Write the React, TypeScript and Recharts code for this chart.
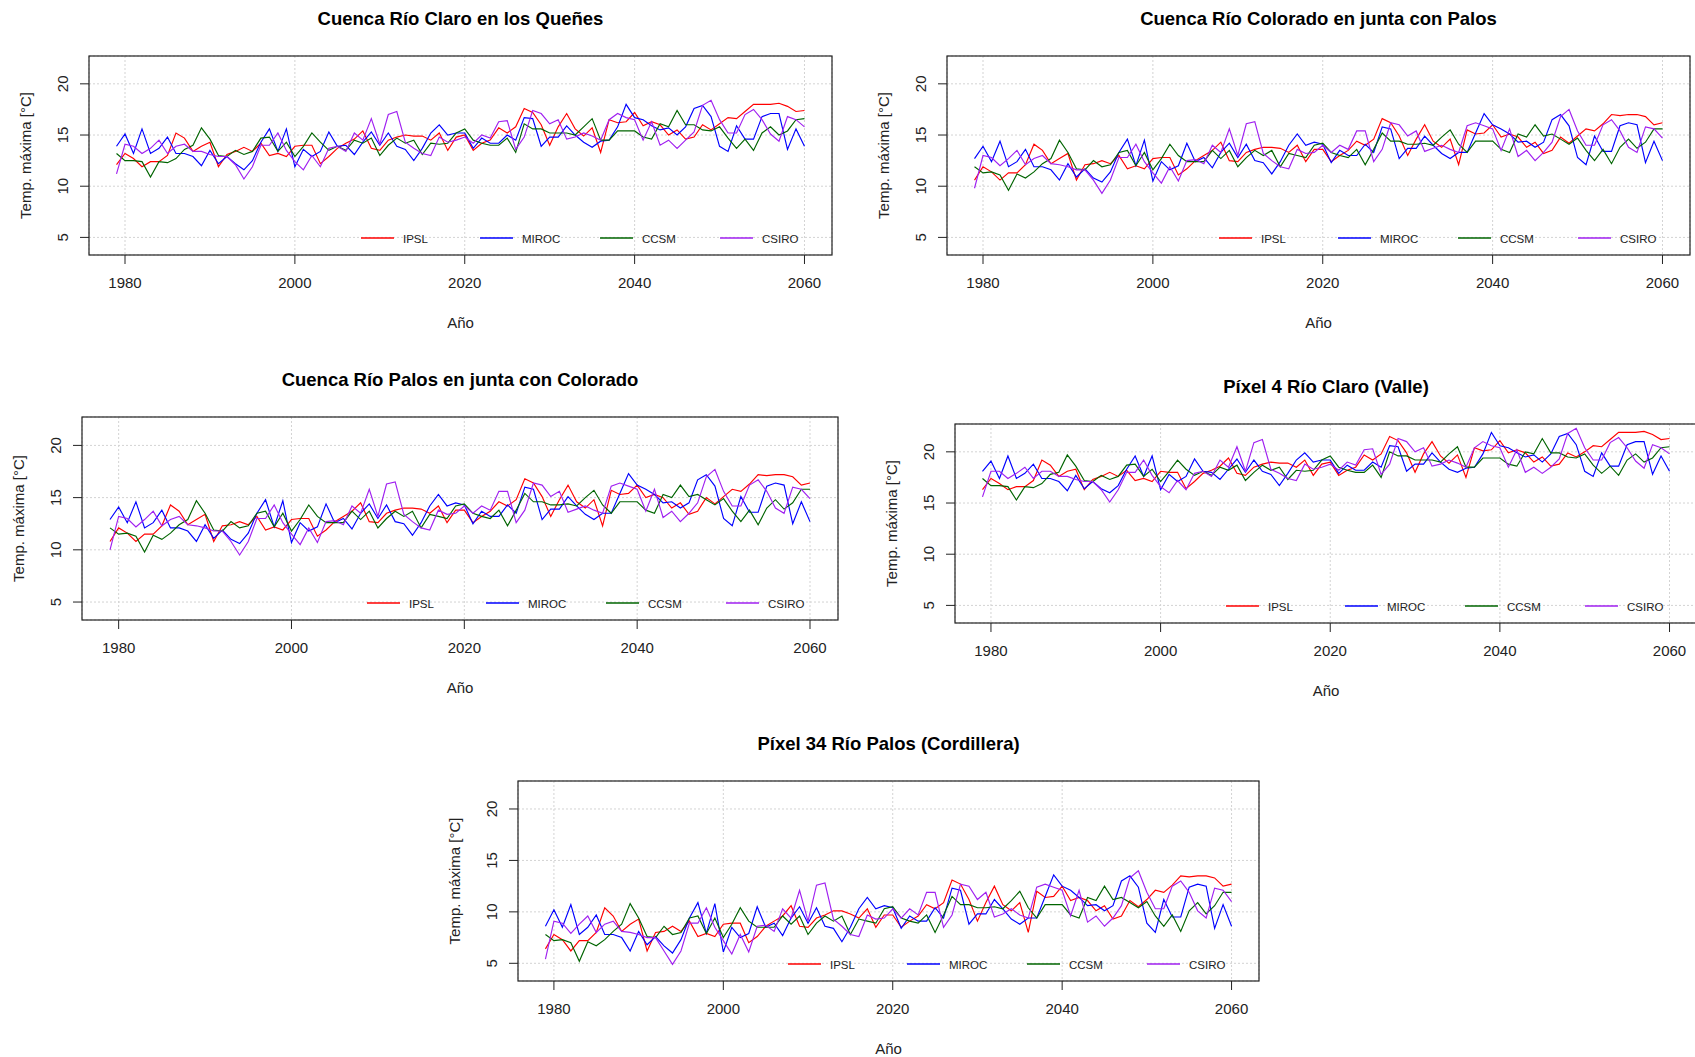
import React from 'react';
import { LineChart, Line, XAxis, YAxis, CartesianGrid } from 'recharts';

const YEARS = [1979,1980,1981,1982,1983,1984,1985,1986,1987,1988,
1989,1990,1991,1992,1993,1994,1995,1996,1997,1998,
1999,2000,2001,2002,2003,2004,2005,2006,2007,2008,
2009,2010,2011,2012,2013,2014,2015,2016,2017,2018,
2019,2020,2021,2022,2023,2024,2025,2026,2027,2028,
2029,2030,2031,2032,2033,2034,2035,2036,2037,2038,
2039,2040,2041,2042,2043,2044,2045,2046,2047,2048,
2049,2050,2051,2052,2053,2054,2055,2056,2057,2058,
2059,2060];

const X_TICKS = [1980, 2000, 2020, 2040, 2060];
const Y_TICKS = [5, 10, 15, 20];
const MODELS = ['IPSL', 'MIROC', 'CCSM', 'CSIRO'];
const X_LABEL = 'Año';
const Y_LABEL = 'Temp. máxima [°C]';
const TITLES = [
  'Cuenca Río Claro en los Queñes',
  'Cuenca Río Colorado en junta con Palos',
  'Cuenca Río Palos en junta con Colorado',
  'Píxel 4 Río Claro (Valle)',
  'Píxel 34 Río Palos (Cordillera)',
];

// Cuenca Río Claro en los Queñes
const CLARO_IPSL = [12.1,13.2,12.7,11.9,12.4,12.4,13.0,15.2,14.7,13.4,
13.9,14.3,11.9,13.1,13.4,13.8,13.4,14.2,13.0,13.2,
12.9,13.9,14.0,14.0,12.2,12.9,13.7,14.2,14.6,15.4,
13.7,13.5,14.5,14.8,15.0,14.9,14.9,14.5,15.2,13.5,
14.8,15.0,13.5,14.2,14.5,15.7,15.2,15.8,17.6,17.2,
16.0,14.0,15.8,17.1,15.6,14.9,15.7,13.3,16.5,16.2,
16.3,17.2,15.9,16.3,16.0,15.0,15.5,14.6,14.8,16.0,
15.5,16.1,16.7,16.6,17.3,18.0,18.0,18.0,18.1,17.8,
17.3,17.4];
const CLARO_MIROC = [13.9,15.1,13.2,15.6,13.2,13.7,14.8,13.2,13.2,12.9,
12.0,13.5,12.2,12.9,12.2,11.6,12.5,14.3,15.6,13.4,
15.6,11.9,13.6,12.9,13.4,15.3,13.9,14.0,13.1,14.3,
15.3,14.0,15.2,13.9,13.6,12.5,13.7,15.2,16.0,15.0,
15.2,15.2,13.7,14.7,14.2,14.2,15.0,14.5,16.7,16.6,
13.9,14.8,14.8,15.9,15.0,14.3,13.8,14.4,14.5,15.8,
18.0,16.7,16.5,15.9,15.5,15.7,15.0,15.8,17.6,17.9,
16.8,13.9,13.4,15.9,14.6,14.6,16.8,17.1,17.1,13.6,
15.6,13.9];
const CLARO_CCSM = [13.2,12.5,12.5,12.4,10.9,12.4,12.3,12.7,13.6,14.0,
15.7,14.6,13.0,12.9,13.5,13.1,13.4,14.7,14.8,13.4,
14.3,12.9,13.9,15.2,14.3,13.5,13.9,13.5,14.5,14.2,
14.7,13.0,14.0,14.7,14.2,14.5,13.1,14.2,14.1,14.2,
15.2,15.6,14.5,14.2,14.0,14.0,14.7,13.3,16.1,15.6,
15.6,15.2,15.2,15.2,15.0,15.8,16.6,14.5,14.5,15.4,
15.4,15.4,14.8,14.6,16.1,15.8,17.4,16.0,16.0,15.5,
15.4,15.8,14.7,13.7,14.6,13.5,15.2,15.8,15.0,15.4,
16.5,16.6];
const CLARO_CSIRO = [11.2,14.1,13.9,13.2,13.7,14.5,13.2,13.9,14.1,13.4,
13.4,13.1,12.9,12.9,12.1,10.7,11.9,14.0,14.0,15.2,
13.5,12.4,11.6,13.0,11.9,13.7,13.9,13.4,15.2,14.5,
16.6,14.1,17.0,17.3,14.3,13.7,13.2,13.0,14.8,14.3,
14.5,14.8,14.2,15.0,14.7,16.3,16.4,13.6,14.8,17.4,
17.1,16.1,16.5,14.6,14.8,15.2,14.9,14.5,16.5,17.1,
16.7,16.5,14.5,16.3,14.0,14.5,13.7,14.5,15.3,17.9,
18.4,16.5,15.2,15.2,17.0,17.5,16.5,15.1,14.4,16.8,
16.5,15.8];

// Cuenca Río Colorado en junta con Palos
const COLORADO_IPSL = [10.6,11.9,11.4,10.6,11.3,11.3,12.1,14.1,13.5,12.2,
12.7,13.2,10.6,12.1,12.2,12.5,12.2,13.0,11.7,12.0,
11.7,12.7,12.8,12.8,11.1,11.7,12.5,13.0,13.5,14.3,
12.5,12.4,13.3,13.6,13.8,13.8,13.7,13.3,14.0,12.4,
13.6,13.6,12.4,13.0,13.5,14.4,14.0,14.6,16.6,16.2,
14.9,13.0,14.6,16.0,14.4,13.8,14.6,12.1,15.5,15.1,
15.2,16.0,14.8,15.1,14.8,13.8,14.3,13.2,13.5,14.8,
14.2,14.9,15.6,15.4,16.1,17.0,16.9,17.0,17.0,16.8,
16.0,16.2];
const COLORADO_MIROC = [12.7,13.9,12.4,14.4,11.9,12.4,13.6,11.9,11.9,11.6,
10.6,12.2,10.9,11.7,10.8,10.4,11.4,13.3,14.6,12.0,
14.5,10.5,12.4,11.6,12.0,14.2,12.4,12.8,11.8,13.3,
14.2,12.8,14.1,12.5,12.3,11.2,12.4,14.0,15.1,14.0,
14.3,14.1,12.3,13.5,13.0,13.0,14.1,13.3,15.8,15.6,
12.7,13.7,13.7,14.9,14.0,13.2,12.7,13.3,13.3,15.2,
17.1,16.0,15.6,15.1,14.3,14.4,13.8,14.3,16.5,17.0,
15.9,12.8,12.1,14.9,13.4,13.4,15.9,16.2,16.0,12.3,
14.4,12.5];
const COLORADO_CCSM = [11.9,11.3,11.4,11.1,9.6,11.2,10.8,11.4,12.2,12.7,
14.5,13.3,11.7,11.6,12.5,11.9,12.1,13.3,13.5,12.0,
13.3,11.6,12.7,14.1,13.0,12.4,12.4,12.4,13.5,12.7,
13.5,11.9,12.8,13.5,13.0,13.5,11.9,13.2,13.0,12.8,
14.0,14.2,13.3,13.0,12.8,13.6,12.1,13.6,15.2,14.4,
14.4,14.1,14.1,14.2,14.0,14.8,15.5,14.1,13.3,14.4,
14.4,14.4,13.6,13.3,15.1,14.8,16.0,14.9,15.1,14.6,
14.1,14.7,13.5,12.5,13.6,12.2,13.8,14.6,13.7,14.3,
15.6,15.6];
const COLORADO_CSIRO = [9.8,13.0,12.8,12.0,12.7,13.5,12.1,12.7,13.0,12.2,
12.1,11.9,11.6,11.6,10.6,9.3,10.6,12.8,12.8,14.1,
12.4,11.3,10.3,11.9,10.5,12.5,12.6,12.2,14.0,13.3,
15.6,13.0,16.1,16.3,13.2,12.5,11.9,11.7,13.6,13.2,
13.3,14.0,13.3,14.0,13.6,15.4,15.4,12.4,13.6,16.2,
16.0,14.9,15.4,13.4,13.7,14.0,13.6,13.3,15.9,16.2,
15.9,15.6,13.5,15.6,12.9,13.5,12.5,13.3,14.3,16.8,
17.5,15.4,14.0,14.0,16.0,16.5,15.4,13.8,13.3,15.8,
15.6,14.7];

// Cuenca Río Palos en junta con Colorado
const PALOS_IPSL = [10.8,12.1,11.6,10.8,11.5,11.5,12.3,14.3,13.7,12.4,
12.9,13.4,10.8,12.3,12.4,12.7,12.4,13.2,11.9,12.2,
11.9,12.9,13.0,13.0,11.3,11.9,12.7,13.2,13.7,14.5,
12.7,12.6,13.5,13.8,14.0,14.0,13.9,13.5,14.2,12.6,
13.8,13.8,12.6,13.2,13.7,14.6,14.2,14.8,16.8,16.4,
15.1,13.2,14.8,16.2,14.6,14.0,14.8,12.3,15.7,15.3,
15.4,16.2,15.0,15.3,15.0,14.0,14.5,13.4,13.7,15.0,
14.4,15.1,15.8,15.6,16.3,17.2,17.1,17.2,17.2,17.0,
16.2,16.4];
const PALOS_MIROC = [12.9,14.1,12.6,14.6,12.1,12.6,13.8,12.1,12.1,11.8,
10.8,12.4,11.1,11.9,11.0,10.6,11.6,13.5,14.8,12.2,
14.7,10.7,12.6,11.8,12.2,14.4,12.6,13.0,12.0,13.5,
14.4,13.0,14.3,12.7,12.5,11.4,12.6,14.2,15.3,14.2,
14.5,14.3,12.5,13.7,13.2,13.2,14.3,13.5,16.0,15.8,
12.9,13.9,13.9,15.1,14.2,13.4,12.9,13.5,13.5,15.4,
17.3,16.2,15.8,15.3,14.5,14.6,14.0,14.5,16.7,17.2,
16.1,13.0,12.3,15.1,13.6,13.6,16.1,16.4,16.2,12.5,
14.6,12.7];
const PALOS_CCSM = [12.1,11.5,11.6,11.3,9.8,11.4,11.0,11.6,12.4,12.9,
14.7,13.5,11.9,11.8,12.7,12.1,12.3,13.5,13.7,12.2,
13.5,11.8,12.9,14.3,13.2,12.6,12.6,12.6,13.7,12.9,
13.7,12.1,13.0,13.7,13.2,13.7,12.1,13.4,13.2,13.0,
14.2,14.4,13.5,13.2,13.0,13.8,12.3,13.8,15.4,14.6,
14.6,14.3,14.3,14.4,14.2,15.0,15.7,14.3,13.5,14.6,
14.6,14.6,13.8,13.5,15.3,15.0,16.2,15.1,15.3,14.8,
14.3,14.9,13.7,12.7,13.8,12.4,14.0,14.8,13.9,14.5,
15.8,15.8];
const PALOS_CSIRO = [10.0,13.2,13.0,12.2,12.9,13.7,12.3,12.9,13.2,12.4,
12.3,12.1,11.8,11.8,10.8,9.5,10.8,13.0,13.0,14.3,
12.6,11.5,10.5,12.1,10.7,12.7,12.8,12.4,14.2,13.5,
15.8,13.2,16.3,16.5,13.4,12.7,12.1,11.9,13.8,13.4,
13.5,14.2,13.5,14.2,13.8,15.6,15.6,12.6,13.8,16.4,
16.2,15.1,15.6,13.6,13.9,14.2,13.8,13.5,16.1,16.4,
16.1,15.8,13.7,15.8,13.1,13.7,12.7,13.5,14.5,17.0,
17.7,15.6,14.2,14.2,16.2,16.7,15.6,14.0,13.5,16.0,
15.8,14.9];

// Píxel 4 Río Claro (Valle)
const VALLE_IPSL = [16.3,17.4,16.9,16.3,16.6,16.6,17.2,19.2,18.7,17.6,
18.1,18.3,16.3,17.3,17.6,18.0,17.6,18.2,17.2,17.4,
17.1,18.1,18.0,18.0,16.4,17.1,17.9,18.2,18.6,19.4,
17.9,17.7,18.5,18.8,19.0,18.9,18.9,18.5,19.2,17.7,
18.8,19.0,17.7,18.2,18.5,19.7,19.2,19.8,21.5,21.1,
19.9,18.0,19.8,21.0,19.6,18.9,19.7,17.5,20.4,20.1,
20.2,21.1,19.9,20.2,19.9,19.0,19.5,18.6,18.8,19.9,
19.5,20.0,20.6,20.5,21.2,21.9,21.9,21.9,22.0,21.7,
21.2,21.3];
const VALLE_MIROC = [18.1,19.1,17.4,19.6,17.4,17.9,18.8,17.4,17.4,17.1,
16.2,17.7,16.4,17.1,16.4,16.0,16.7,18.3,19.6,17.6,
19.6,16.3,17.8,17.1,17.6,19.3,18.1,18.0,17.3,18.3,
19.3,18.0,19.2,18.1,17.8,16.7,17.9,19.2,19.9,19.0,
19.2,19.2,17.9,18.7,18.2,18.2,19.0,18.5,20.6,20.5,
18.1,18.8,18.8,19.9,19.0,18.3,18.0,18.4,18.5,19.8,
21.9,20.6,20.4,19.9,19.5,19.7,19.0,19.8,21.5,21.8,
20.7,18.1,17.6,19.9,18.6,18.6,20.7,21.0,21.0,17.8,
19.6,18.1];
const VALLE_CCSM = [17.4,16.7,16.7,16.6,15.3,16.6,16.5,16.9,17.8,18.0,
19.7,18.6,17.2,17.1,17.7,17.3,17.6,18.7,18.8,17.6,
18.3,17.1,18.1,19.2,18.3,17.7,18.1,17.7,18.5,18.2,
18.7,17.2,18.0,18.7,18.2,18.5,17.3,18.2,18.1,18.2,
19.2,19.6,18.5,18.2,18.0,18.0,18.7,17.5,20.0,19.6,
19.6,19.2,19.2,19.2,19.0,19.8,20.5,18.5,18.5,19.4,
19.4,19.4,18.8,18.6,20.0,19.8,21.3,19.9,19.9,19.5,
19.4,19.8,18.7,17.9,18.6,17.7,19.2,19.8,19.0,19.4,
20.4,20.5];
const VALLE_CSIRO = [15.6,18.1,18.1,17.4,17.9,18.5,17.4,18.1,18.1,17.6,
17.6,17.3,17.1,17.1,16.3,15.1,16.3,18.0,18.0,19.2,
17.7,16.6,16.0,17.2,16.3,17.9,18.1,17.6,19.2,18.5,
20.5,18.1,20.9,21.2,18.3,17.9,17.4,17.2,18.8,18.3,
18.5,18.8,18.2,19.0,18.7,20.2,20.3,17.8,18.8,21.3,
21.0,20.0,20.4,18.6,18.8,19.2,18.9,18.5,20.4,21.0,
20.6,20.4,18.5,20.2,18.0,18.5,17.9,18.5,19.3,21.8,
22.3,20.4,19.2,19.2,20.9,21.4,20.4,19.1,18.4,20.7,
20.4,19.8];

// Píxel 34 Río Palos (Cordillera)
const CORD_IPSL = [6.4,7.8,7.3,6.2,7.2,7.2,8.0,10.4,9.6,8.1,
8.8,9.3,6.2,8.0,8.1,8.6,8.1,9.1,7.6,7.9,
7.6,8.8,8.9,8.9,7.0,7.6,8.6,9.1,9.6,10.6,
8.6,8.5,9.4,9.7,10.1,10.1,9.8,9.4,10.3,8.5,
9.7,9.7,8.5,9.1,9.6,10.7,10.3,10.9,13.1,12.7,
11.2,9.1,10.9,12.5,10.7,10.1,10.9,8.0,12.0,11.4,
11.5,12.5,11.1,11.4,11.1,10.1,10.6,9.3,9.6,11.1,
10.5,11.2,12.1,11.9,12.6,13.5,13.4,13.5,13.5,13.3,
12.5,12.7];
const CORD_MIROC = [8.6,10.2,8.5,10.7,7.8,8.5,9.7,7.8,7.8,7.5,
6.2,8.1,6.8,7.6,6.7,6.0,7.3,9.4,10.9,7.9,
10.8,6.1,8.5,7.5,7.9,10.5,8.5,8.9,7.7,9.4,
10.5,8.9,10.4,8.6,8.4,7.1,8.5,10.3,11.4,10.3,
10.6,10.4,8.4,9.6,9.1,9.1,10.4,9.4,12.3,12.1,
8.8,9.8,9.8,11.2,10.3,9.3,8.8,9.4,9.4,11.5,
13.6,12.5,12.1,11.4,10.6,10.7,10.1,10.6,13.0,13.5,
12.4,8.9,8.0,11.2,9.5,9.5,12.4,12.7,12.5,8.4,
10.7,8.6];
const CORD_CCSM = [7.8,7.2,7.3,7.0,5.2,7.1,6.7,7.3,8.1,8.8,
10.8,9.4,7.6,7.5,8.6,7.8,8.0,9.4,9.6,7.9,
9.4,7.5,8.8,10.4,9.1,8.5,8.5,8.5,9.6,8.8,
9.6,7.8,8.9,9.6,9.1,9.6,7.8,9.3,9.1,8.9,
10.3,10.5,9.4,9.1,8.9,9.7,8.0,9.7,11.5,10.7,
10.7,10.4,10.4,10.5,10.3,11.1,12.0,10.4,9.4,10.7,
10.7,10.7,9.7,9.4,11.4,11.1,12.5,11.2,11.4,10.9,
10.4,11.0,9.6,8.6,9.7,8.1,10.1,10.9,9.8,10.6,
11.9,11.9];
const CORD_CSIRO = [5.4,9.1,8.9,7.9,8.8,9.6,8.0,8.8,9.1,8.1,
8.0,7.8,7.5,7.5,6.2,4.9,6.2,8.9,8.9,10.4,
8.5,7.2,5.9,7.8,6.1,8.6,8.7,8.1,10.3,9.4,
12.1,9.1,12.6,12.8,9.3,8.6,7.8,7.6,9.7,9.3,
9.4,10.3,9.4,10.3,9.7,11.9,11.9,8.5,9.7,12.7,
12.5,11.2,11.9,9.5,9.8,10.3,9.7,9.4,12.4,12.7,
12.4,12.1,9.6,12.1,9.0,9.6,8.6,9.4,10.6,13.3,
14.0,11.9,10.3,10.3,12.5,13.0,11.9,10.1,9.4,12.3,
12.1,11.0];

const PANEL_SERIES = [
  [CLARO_IPSL, CLARO_MIROC, CLARO_CCSM, CLARO_CSIRO],
  [COLORADO_IPSL, COLORADO_MIROC, COLORADO_CCSM, COLORADO_CSIRO],
  [PALOS_IPSL, PALOS_MIROC, PALOS_CCSM, PALOS_CSIRO],
  [VALLE_IPSL, VALLE_MIROC, VALLE_CCSM, VALLE_CSIRO],
  [CORD_IPSL, CORD_MIROC, CORD_CCSM, CORD_CSIRO],
];

// ---- styling / layout (kept apart from the data) ----
const COLORS = ['#FF0000', '#0000FF', '#006400', '#A020F0'];
const FONT = '"Liberation Sans", Arial, Helvetica, sans-serif';
const INK = '#222222';
const X_DOMAIN: [number, number] = [1975.76, 2063.24];
const Y_DOMAIN: [number, number] = [3.28, 22.72];
// plot boxes in page pixels: left, top, right, bottom
const BOXES = [
  { l: 89, t: 56, r: 832, b: 255 },
  { l: 947, t: 56, r: 1690, b: 255 },
  { l: 82, t: 417, r: 838, b: 620 },
  { l: 955, t: 424, r: 1697, b: 623 },
  { l: 518, t: 781, r: 1259, b: 981 },
];
const LEGEND_OFFSETS = [-471, -352, -232, -112];

const ML = 100, MT = 50, MR = 20, MB = 100;
const YW = 60, XH = 50;

const YTick = (props: any) => {
  const { y, payload } = props;
  const cx = ML - 26.5;
  return (
    <text x={cx} y={y} transform={`rotate(-90 ${cx} ${y})`} textAnchor="middle"
      dominantBaseline="central" fontSize={15} fill={INK} fontFamily={FONT}>
      {payload.value}
    </text>
  );
};

function Panel({ idx }: { idx: number }) {
  const box = BOXES[idx];
  const series = PANEL_SERIES[idx];
  const w = box.r - box.l;
  const h = box.b - box.t;
  const W = w + ML + MR;
  const H = h + MT + MB;
  const data = YEARS.map((yr, i) => {
    const row: any = { year: yr };
    MODELS.forEach((m, k) => { row[m] = series[k][i]; });
    return row;
  });
  return (
    <div style={{ position: 'absolute', left: box.l - ML, top: box.t - MT, width: W, height: H }}>
      <LineChart width={W} height={H} data={data}
        margin={{ left: ML - YW, top: MT, right: MR, bottom: MB - XH }}>
        <CartesianGrid stroke="#D3D3D3" strokeDasharray="2 2" strokeWidth={1} />
        <XAxis dataKey="year" type="number" domain={X_DOMAIN} ticks={X_TICKS} allowDataOverflow
          interval={0} height={XH} axisLine={false} tickLine={{ stroke: INK }} tickSize={9} tickMargin={13}
          tick={{ fill: INK, fontSize: 15, fontFamily: FONT }} />
        <YAxis type="number" domain={Y_DOMAIN} ticks={Y_TICKS} allowDataOverflow interval={0}
          width={YW} axisLine={false} tickLine={{ stroke: INK }} tickSize={9} tick={<YTick />} />
        {MODELS.map((m, k) => (
          <Line key={m} dataKey={m} type="linear" stroke={COLORS[k]} strokeWidth={1.15}
            dot={false} activeDot={false} isAnimationActive={false} />
        ))}
      </LineChart>
      <svg width={W} height={H} style={{ position: 'absolute', left: 0, top: 0, pointerEvents: 'none', overflow: 'visible' }}>
        <rect x={ML} y={MT} width={w} height={h} fill="none" stroke={INK} strokeWidth={1.2} />
        <text x={ML + w / 2} y={MT - 38} textAnchor="middle" dominantBaseline="central"
          fontSize={18.5} fontWeight="bold" fill="#000" fontFamily={FONT}>{TITLES[idx]}</text>
        <text x={ML + w / 2} y={MT + h + 67} textAnchor="middle" dominantBaseline="central"
          fontSize={15} fill={INK} fontFamily={FONT}>{X_LABEL}</text>
        <text x={ML - 64} y={MT + h / 2} transform={`rotate(-90 ${ML - 64} ${MT + h / 2})`}
          textAnchor="middle" dominantBaseline="central" fontSize={15} fill={INK} fontFamily={FONT}>{Y_LABEL}</text>
        {MODELS.map((m, k) => {
          const x1 = ML + w + LEGEND_OFFSETS[k];
          const yy = MT + h - 17;
          return (
            <g key={m}>
              <line x1={x1} x2={x1 + 33} y1={yy} y2={yy} stroke={COLORS[k]} strokeWidth={1.8} strokeOpacity={0.75} />
              <text x={x1 + 42} y={yy + 0.5} dominantBaseline="central" fontSize={11.5} fill={INK} fontFamily={FONT}>{m}</text>
            </g>
          );
        })}
      </svg>
    </div>
  );
}

export default function App() {
  return (
    <div style={{ position: 'absolute', left: 0, top: 0, width: 1695, height: 1057, overflow: 'hidden', background: '#fff' }}>
      {BOXES.map((_, i) => <Panel key={i} idx={i} />)}
    </div>
  );
}
